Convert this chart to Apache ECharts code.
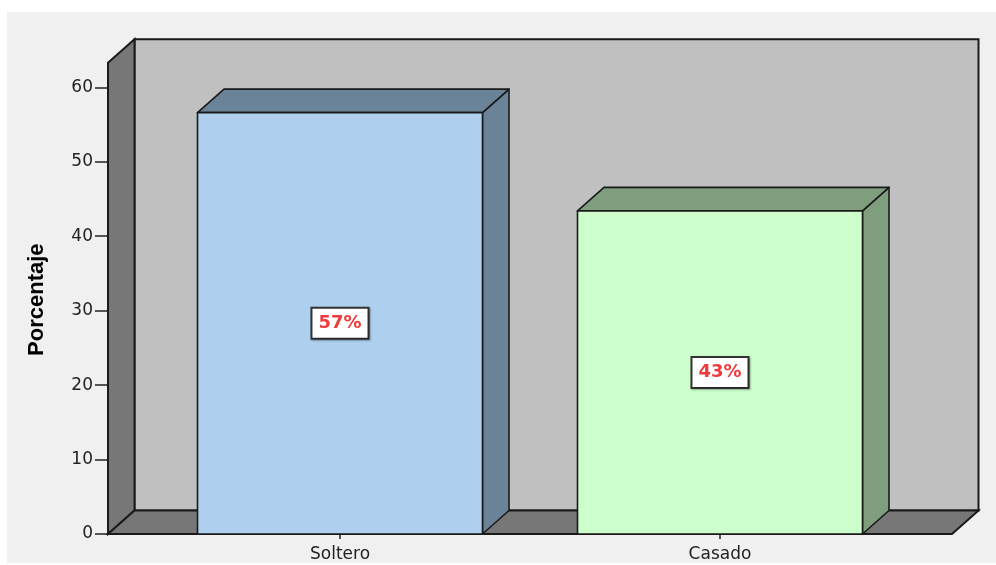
<!DOCTYPE html>
<html>
<head>
<meta charset="utf-8">
<script src="https://cdn.jsdelivr.net/npm/echarts@6/dist/echarts.min.js"></script>
<style>
  html, body { margin: 0; padding: 0; background: #ffffff; }
  #chart { width: 996px; height: 565px; }
</style>
</head>
<body>
<div id="chart"></div>
<script>
// ---- data ----
const categories = ['Soltero', 'Casado'];
const values = [56.6, 43.4];
const valueLabels = ['57%', '43%'];
const yMin = 0;
const yMax = 60;
const yInterval = 10;
const wallTopValue = 63.3;
const axisTitle = 'Porcentaje';

// ---- styling / 3D geometry ----
const DX = 26.5, DY = -23.5;      // depth offset
const PAD = 42;                   // box extension beyond grid on each side
const barFront = ['#aecfee', '#ccffcc'];
const barDepth = ['#6a8398', '#7e9e7e'];
const EDGE = '#1a1a1a';
const FONT = 'DejaVu Sans, Verdana, sans-serif';

const chart = echarts.init(document.getElementById('chart'), null, { renderer: 'canvas' });

function renderWalls(params, api) {
  const cs = params.coordSys;
  const left = cs.x - PAD;
  const right = cs.x + cs.width + PAD;
  const bottom = api.coord([0, 0])[1];
  const top = api.coord([0, wallTopValue])[1];
  const lineStyle = { stroke: EDGE, lineWidth: 2 };
  return {
    type: 'group',
    children: [
      { type: 'polygon', shape: { points: [[left + DX, top + DY], [right + DX, top + DY], [right + DX, bottom + DY], [left + DX, bottom + DY]] },
        style: Object.assign({ fill: '#c0c0c0' }, lineStyle) },
      { type: 'polygon', shape: { points: [[left, top], [left + DX, top + DY], [left + DX, bottom + DY], [left, bottom]] },
        style: Object.assign({ fill: '#777777' }, lineStyle) },
      { type: 'polygon', shape: { points: [[left, bottom], [left + DX, bottom + DY], [right + DX, bottom + DY], [right, bottom]] },
        style: Object.assign({ fill: '#777777' }, lineStyle) }
    ]
  };
}

function renderBar(params, api) {
  const i = params.dataIndex;
  const cat = api.value(0);
  const val = api.value(1);
  const topPt = api.coord([cat, val]);
  const basePt = api.coord([cat, 0]);
  const bw = api.size([1, 0])[0] * 0.75;
  const x0 = topPt[0] - bw / 2, x1 = topPt[0] + bw / 2;
  const y0 = topPt[1], y1 = basePt[1];
  const ls = { stroke: EDGE, lineWidth: 1.6, lineJoin: 'round' };
  return {
    type: 'group',
    children: [
      { type: 'polygon', shape: { points: [[x1, y0], [x1 + DX, y0 + DY], [x1 + DX, y1 + DY], [x1, y1]] },
        style: Object.assign({ fill: barDepth[i] }, ls) },
      { type: 'polygon', shape: { points: [[x0, y0], [x0 + DX, y0 + DY], [x1 + DX, y0 + DY], [x1, y0]] },
        style: Object.assign({ fill: barDepth[i] }, ls) },
      { type: 'rect', shape: { x: x0, y: y0, width: bw, height: y1 - y0 },
        style: Object.assign({ fill: barFront[i] }, ls) },
      { type: 'text', x: topPt[0], y: (y0 + y1) / 2,
        style: {
          text: valueLabels[i], align: 'center', verticalAlign: 'middle',
          fill: '#ee3b3b', fontFamily: FONT,
          fontWeight: 'bold', fontSize: 18,
          backgroundColor: '#ffffff', borderColor: '#333333', borderWidth: 2,
          padding: [6, 6, 5, 6],
          shadowColor: 'rgba(0,0,0,0.3)', shadowBlur: 2, shadowOffsetX: 1, shadowOffsetY: 1
        } }
    ]
  };
}

const option = {
  animation: false,
  backgroundColor: '#ffffff',
  textStyle: { fontFamily: FONT },
  graphic: [{
    type: 'rect', z: -100, silent: true,
    shape: { x: 7, y: 12, width: 989, height: 551 },
    style: { fill: '#f0f0f0' }
  }],
  grid: { left: 150, right: 86, top: 87.3, bottom: 31, containLabel: false },
  xAxis: {
    type: 'category',
    data: categories,
    axisLine: { show: false },
    axisTick: { show: true, alignWithLabel: true, length: 5, lineStyle: { color: '#222', width: 1.5 } },
    axisLabel: { color: '#222', fontSize: 17, fontFamily: FONT, margin: 12 },
    splitLine: { show: false }
  },
  yAxis: {
    type: 'value',
    min: yMin, max: yMax, interval: yInterval,
    offset: PAD,
    name: axisTitle,
    nameLocation: 'middle',
    nameRotate: 90,
    nameGap: 60,
    nameTextStyle: { color: '#000', fontSize: 22, fontWeight: 'bold', fontFamily: 'Liberation Sans, Arial, sans-serif', padding: [0, 0, 0, 22] },
    axisLine: { show: false },
    axisTick: { show: true, length: 13, lineStyle: { color: '#222', width: 1.5 } },
    axisLabel: { color: '#222', fontSize: 17, fontFamily: FONT, margin: 15 },
    splitLine: { show: false }
  },
  series: [
    {
      type: 'custom', name: 'walls', z: 1, clip: false,
      renderItem: renderWalls,
      data: [[0, 0]],
      silent: true
    },
    {
      type: 'custom', name: 'Porcentaje', z: 2, clip: false,
      renderItem: renderBar,
      data: categories.map((c, i) => [i, values[i]])
    }
  ]
};
chart.setOption(option);
</script>
</body>
</html>
